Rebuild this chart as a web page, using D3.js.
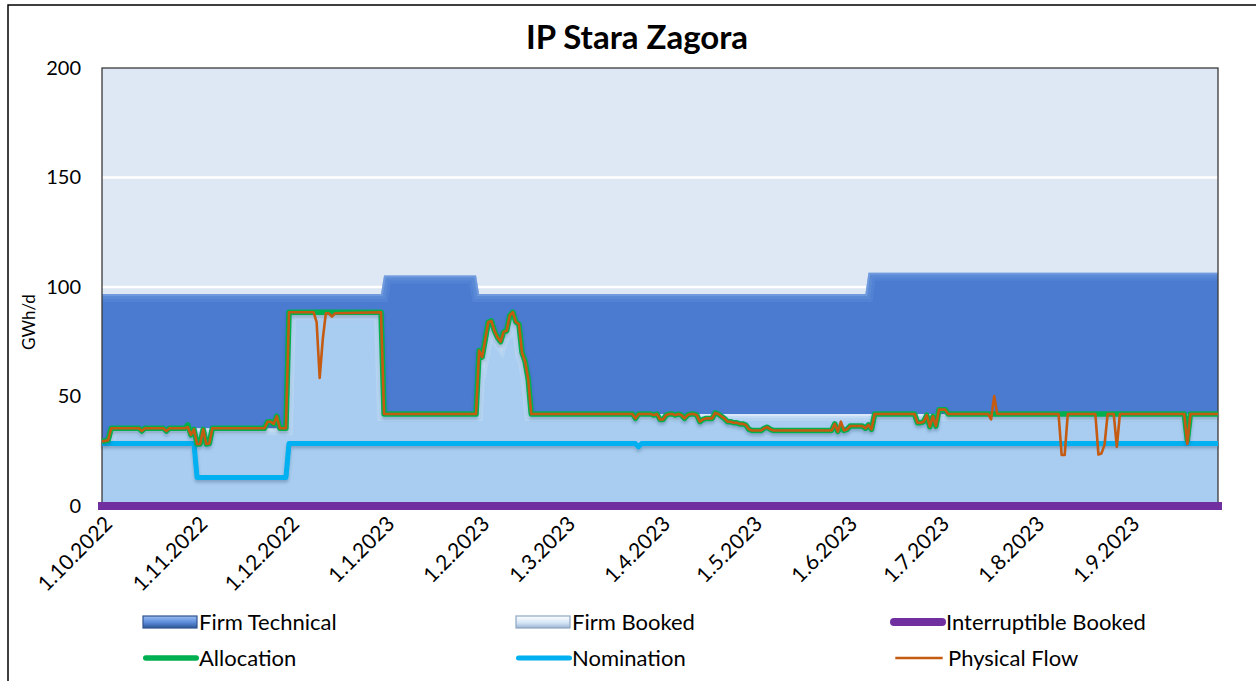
<!DOCTYPE html>
<html><head><meta charset="utf-8">
<script src="https://cdn.jsdelivr.net/npm/d3@7"></script>
<style>body{margin:0;background:#fff} svg{display:block} text{font-family:Lato,"Open Sans",sans-serif;fill:#000}</style>
</head><body><svg id="c" width="1256" height="681"></svg>
<script>
// ---------- DATA (day offsets from startDate, value in GWh/d) ----------
const startDate = "2022-10-01";
const endDay = 364;
const chartTitle = "IP Stara Zagora";
const yAxisTitle = "GWh/d";
const yTicks = [0, 50, 100, 150, 200];
const xTickLabels = ["1.10.2022","1.11.2022","1.12.2022","1.1.2023","1.2.2023","1.3.2023","1.4.2023","1.5.2023","1.6.2023","1.7.2023","1.8.2023","1.9.2023"];
const legendLabels = ["Firm Technical","Firm Booked","Interruptible Booked","Allocation","Nomination","Physical Flow"];

const firmTechnical = [[0,96.8],[91,96.8],[92,105.2],[122,105.2],[123,96.8],[249,96.8],[250,106.5],[364,106.5]];

const firmBooked = [[0,30],[2,30],[3,35.5],[60,35.5],[61,88],[91,88],[92,42],[122,42],[123,70],[124,67.5],[125,75.5],[126,83.5],[127,84],[128,79.5],[129,76.5],[130,74.5],[131,79],[132,79.5],[133,86.5],[134,88],[135,83.5],[136,82.5],[137,69.5],[138,65.5],[139,57.5],[140,42],[364,42]];

const interruptibleBooked = [[0,0],[364,0]];

const allocation = [[0,29.5],[2,30],[3,35.5],[12,35.5],[13,34.2],[14,35.5],[20,35.5],[21,34.2],[22,35.5],[27,35.5],[28,37],[29,32.5],[30,35],[31,28.3],[32,28.3],[33,35],[34,28.3],[35,28.5],[36,35.5],[53,35.5],[54,38.5],[55,38.5],[56,37.5],[57,41],[58,35.5],[60,35.5],[61,88.5],[91,88.5],[92,42],[122,42],[123,71],[124,68],[125,76],[126,84],[127,84.5],[128,80],[129,77],[130,75],[131,79.5],[132,80],[133,87],[134,88.5],[135,84],[136,83],[137,70],[138,66],[139,58],[140,42],[173,42],[174,40],[175,42],[179,42],[180,41.5],[181,42],[182,39.5],[183,39.5],[184,41.5],[185,42],[186,42],[187,41.5],[188,42],[189,41.5],[190,40],[191,41.5],[192,42],[193,42],[194,41.5],[195,38.5],[196,39.5],[197,40],[199,40],[200,42.5],[201,42],[202,41],[203,40],[204,38.5],[205,38.5],[206,38],[207,38],[208,37.5],[209,37.5],[210,37],[211,35],[212,34.5],[215,34.5],[216,35.5],[217,36],[218,35],[219,34.5],[238,34.5],[239,37.5],[240,34],[241,36],[242,34.5],[243,35],[244,36.5],[248,36.5],[249,35.5],[250,37],[251,35],[252,42],[265,42],[266,38],[267,38],[268,38.5],[269,41.5],[270,36.2],[271,41],[272,36.5],[273,44],[275,44],[276,42],[353,42],[354,30],[355,42],[364,42]];

const physicalFlow = [[0,29.5],[2,30],[3,35.5],[12,35.5],[13,34.2],[14,35.5],[20,35.5],[21,34.2],[22,35.5],[27,35.5],[28,36],[29,32.5],[30,35],[31,28.3],[32,28.3],[33,35],[34,28.3],[35,28.5],[36,35.5],[53,35.5],[54,38.5],[55,38.5],[56,37.5],[57,41],[58,35.5],[60,35.5],[61,88.5],[69,88.5],[70,84],[71,58.5],[72,76],[73,88],[74,88],[75,86.5],[76,88],[91,88.5],[92,42],[122,42],[123,71],[124,68],[125,76],[126,84],[127,84.5],[128,80],[129,77],[130,75],[131,79.5],[132,80],[133,87],[134,88.5],[135,84],[136,83],[137,70],[138,66],[139,58],[140,42],[173,42],[174,40],[175,42],[179,42],[180,41.5],[181,42],[182,39.5],[183,39.5],[184,41.5],[185,42],[186,42],[187,41.5],[188,42],[189,41.5],[190,40],[191,41.5],[192,42],[193,42],[194,41.5],[195,38.5],[196,39.5],[197,40],[199,40],[200,42.5],[201,42],[202,41],[203,40],[204,38.5],[205,38.5],[206,38],[207,38],[208,37.5],[209,37.5],[210,37],[211,35],[212,34.5],[215,34.5],[216,35.5],[217,36],[218,35],[219,34.5],[238,34.5],[239,37.5],[240,34],[241,38.5],[242,34.5],[243,35],[244,36.5],[248,36.5],[249,35.5],[250,37],[251,35],[252,42],[265,42],[266,38],[267,38],[268,38.5],[269,41.5],[270,36.2],[271,41],[272,36.5],[273,44],[275,44],[276,42],[289,42],[290,39.6],[291,50.2],[292,42],[312,42],[313,23.3],[314,23.3],[315,42],[324,42],[325,23.5],[326,24],[327,28],[328,42],[330,42],[331,27],[332,42],[353,42],[354,28.3],[355,42],[364,42]];

const nomination = [[0,28.5],[30,28.5],[31,13],[60,13],[61,28.5],[174,28.5],[175,27],[176,28.5],[364,28.5]];

// ---------- CHART ----------
const svg = d3.select("#c");
const W = 1256, H = 681;
const plot = {left: 102, right: 1218, top: 68, bottom: 506};
const t0 = d3.timeParse("%Y-%m-%d")(startDate);
const toDate = d => d3.timeDay.offset(t0, d);
const x = d3.scaleTime().domain([t0, toDate(endDay)]).range([plot.left, plot.right]);
const y = d3.scaleLinear().domain([0, 200]).range([plot.bottom, plot.top]);

svg.append("rect").attr("width", W).attr("height", H).attr("fill", "#fff");
svg.append("path").attr("d", `M8,${H+2}V5H${W+2}`).attr("fill","none").attr("stroke","#000").attr("stroke-width",1.5);

const defs = svg.append("defs");
const sh = defs.append("filter").attr("id","shadow").attr("x","-5%").attr("y","-20%").attr("width","110%").attr("height","160%");
sh.append("feDropShadow").attr("dx",0).attr("dy",2.5).attr("stdDeviation",1.6).attr("flood-color","#1f3c66").attr("flood-opacity",0.3);

svg.append("rect").attr("x",plot.left).attr("y",plot.top).attr("width",plot.right-plot.left).attr("height",plot.bottom-plot.top).attr("fill","#DDE8F4");

svg.append("g").selectAll("line").data(yTicks.filter(v => v > 0 && v < 200)).join("line")
  .attr("x1",plot.left).attr("x2",plot.right).attr("y1",d=>y(d)).attr("y2",d=>y(d))
  .attr("stroke","#fff").attr("stroke-width",2.5);

const px = d => x(toDate(d[0]));
const area = d3.area().x(px).y0(y(0)).y1(d => y(d[1]));
const line = d3.line().x(px).y(d => y(d[1]));

function bevelArea(data, fill, id, bands) {
  defs.append("clipPath").attr("id", id).append("path").attr("d", area(data));
  svg.append("path").attr("d", area(data)).attr("fill", fill);
  bands.forEach(b => {
    svg.append("path").attr("d", line(data)).attr("clip-path", `url(#${id})`)
      .attr("fill","none").attr("stroke", b.c).attr("stroke-width", b.w).attr("stroke-opacity", b.o)
      .attr("stroke-linejoin","miter");
  });
}
bevelArea(firmTechnical, "#4A7BD0", "ftClip", [{c:"#8FB3EE",w:16,o:0.12},{c:"#8FB3EE",w:10,o:0.15},{c:"#A5C3F2",w:4,o:0.3}]);
bevelArea(firmBooked, "#A9CDF0", "fbClip", [{c:"#ffffff",w:14,o:0.15},{c:"#ffffff",w:8,o:0.2},{c:"#ffffff",w:4,o:0.35}]);

svg.append("rect").attr("x",plot.left).attr("y",plot.top).attr("width",plot.right-plot.left).attr("height",plot.bottom-plot.top)
  .attr("fill","none").attr("stroke","#3a3a3a").attr("stroke-width",1.3);

const drawLine = (data, color, w, shadow) => svg.append("path").attr("d", line(data)).attr("fill","none")
  .attr("stroke", color).attr("stroke-width", w).attr("stroke-linejoin","round").attr("stroke-linecap","butt")
  .attr("filter", shadow ? "url(#shadow)" : null);
drawLine(nomination, "#00B0F0", 5, true);
drawLine(allocation, "#00B050", 5.5, true);
drawLine(physicalFlow, "#C55A11", 2.6, false);
svg.append("path").attr("d", line(interruptibleBooked)).attr("fill","none")
  .attr("stroke","#7030A0").attr("stroke-width",8).attr("stroke-linecap","square");

// y axis
const yAxis = svg.append("g").attr("transform",`translate(${plot.left},0)`)
  .call(d3.axisLeft(y).tickValues(yTicks).tickSize(0).tickPadding(21));
yAxis.select(".domain").remove();
yAxis.selectAll("text").attr("font-size",20).attr("font-family","Lato").attr("fill","#000");

// x axis
const tickDates = xTickLabels.map(s => d3.timeParse("%d.%m.%Y")(s));
const xAxis = svg.append("g").attr("transform",`translate(0,${plot.bottom})`)
  .call(d3.axisBottom(x).tickValues(tickDates).tickSize(0).tickFormat((d,i) => xTickLabels[i]));
xAxis.select(".domain").remove();
xAxis.selectAll("text").attr("font-size",21).attr("font-family","Lato").attr("fill","#000")
  .attr("text-anchor","end").attr("x",0).attr("y",0).attr("dy","0.35em")
  .attr("transform","translate(6,14) rotate(-45)");

// title
svg.append("text").attr("x",637).attr("y",49).attr("text-anchor","middle")
  .attr("font-size",33).attr("font-weight","bold").text(chartTitle);
// y title
svg.append("text").attr("transform","translate(35,322) rotate(-90)").attr("text-anchor","middle")
  .attr("font-size",17).text(yAxisTitle);

// legend
const lg = defs.append("linearGradient").attr("id","ftSw").attr("x1",0).attr("x2",0).attr("y1",0).attr("y2",1);
lg.append("stop").attr("offset","0").attr("stop-color","#9CBDF0");
lg.append("stop").attr("offset","0.5").attr("stop-color","#5F8FDD");
lg.append("stop").attr("offset","1").attr("stop-color","#2F5597");
const lg2 = defs.append("linearGradient").attr("id","fbSw").attr("x1",0).attr("x2",0).attr("y1",0).attr("y2",1);
lg2.append("stop").attr("offset","0").attr("stop-color","#ffffff");
lg2.append("stop").attr("offset","0.55").attr("stop-color","#D5E6F7");
lg2.append("stop").attr("offset","1").attr("stop-color","#9DB5D3");

const legendItems = [
  {label: legendLabels[0], type:"rect", fill:"url(#ftSw)", stroke:"#2F528F", x:143, y:622},
  {label: legendLabels[1], type:"rect", fill:"url(#fbSw)", stroke:"#8EA6C2", x:516, y:622},
  {label: legendLabels[2], type:"line", color:"#7030A0", w:8, x:890, y:622},
  {label: legendLabels[3], type:"line", color:"#00B050", w:5.5, x:143, y:658},
  {label: legendLabels[4], type:"line", color:"#00B0F0", w:5, x:516, y:658},
  {label: legendLabels[5], type:"line", color:"#C55A11", w:2.6, x:892, y:658, short:true}
];
const sw = 56;
legendItems.forEach(it => {
  const g = svg.append("g");
  if (it.type === "rect") {
    g.append("rect").attr("x",it.x).attr("y",it.y-6).attr("width",sw-2).attr("height",12)
      .attr("fill",it.fill).attr("stroke",it.stroke).attr("stroke-width",1.2);
  } else {
    const x1 = it.x + it.w/2 + (it.short?2:0), x2 = it.x + sw - it.w/2 - (it.short?4:0);
    g.append("line").attr("x1",x1).attr("x2",x2).attr("y1",it.y).attr("y2",it.y)
      .attr("stroke",it.color).attr("stroke-width",it.w).attr("stroke-linecap", it.short ? "butt" : "round");
  }
  g.append("text").attr("x",it.x+sw).attr("y",it.y).attr("dy","0.35em").attr("font-size",22).text(it.label);
});
</script>
</body></html>
